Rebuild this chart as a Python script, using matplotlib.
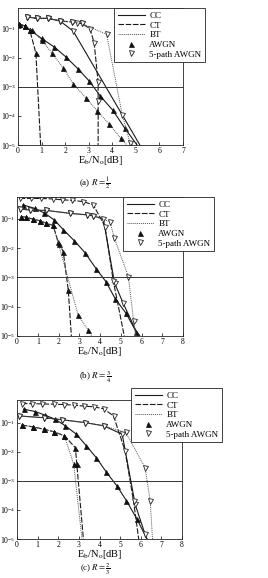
import matplotlib
matplotlib.use("Agg")
import matplotlib.pyplot as plt
from matplotlib.lines import Line2D
import numpy as np

plt.rcParams["font.family"] = ["Liberation Serif", "DejaVu Serif"]
plt.rcParams["mathtext.fontset"] = "stix"

# ---- (a) R = 1/2 ----
A_CC_AWGN_X = [0.06, 0.3, 0.5, 1.0, 1.54, 2.02, 2.53, 3.01, 3.5, 4.01, 4.53, 5.05]
A_CC_AWGN_Y = [0.14, 0.12, 0.09, 0.045, 0.023, 0.0107, 4.2e-3, 1.6e-3, 4.7e-4, 1.6e-4, 3.8e-5, 1e-5]
A_CT_AWGN_X = [0.06, 0.3, 0.5, 0.76, 0.96]
A_CT_AWGN_Y = [0.14, 0.12, 0.087, 0.014, 1e-5]
A_BT_AWGN_X = [0.06, 0.3, 0.58, 1.0, 1.43, 1.92, 2.34, 2.88, 3.36, 3.87, 4.36, 4.62]
A_BT_AWGN_Y = [0.14, 0.12, 0.087, 0.04, 0.0145, 4.4e-3, 1.26e-3, 4.1e-4, 1.5e-4, 5.2e-5, 1.7e-5, 1e-5]
A_CC_5P_X = [0.37, 0.79, 1.28, 1.78, 2.34, 5.17]
A_CC_5P_Y = [0.25, 0.22, 0.22, 0.18, 0.081, 1e-5]
A_CT_5P_X = [0.37, 0.79, 1.28, 1.78, 2.27, 2.49, 2.7, 3.05, 3.23, 3.4, 3.4, 3.4]
A_CT_5P_Y = [0.25, 0.22, 0.22, 0.18, 0.166, 0.148, 0.148, 0.098, 0.032, 1.4e-3, 3.2e-4, 1e-5]
A_BT_5P_X = [0.37, 0.79, 1.28, 1.78, 2.27, 2.7, 3.76, 4.42, 4.75, 4.86]
A_BT_5P_Y = [0.25, 0.22, 0.22, 0.18, 0.166, 0.148, 0.062, 1.1e-4, 1.2e-5, 1e-5]

# ---- (b) R = 3/4 ----
B_CC_AWGN_X = [0.29, 0.85, 1.31, 1.79, 2.23, 2.76, 3.27, 3.81, 4.29, 4.73, 5.26, 5.74, 5.92]
B_CC_AWGN_Y = [0.30, 0.23, 0.16, 0.093, 0.043, 0.018, 7.1e-3, 2.0e-3, 7.1e-4, 1.9e-4, 5.9e-5, 1.4e-5, 1e-5]
B_CT_AWGN_X = [0.21, 0.45, 0.77, 1.1, 1.42, 1.74, 1.98, 2.23, 2.47, 2.62]
B_CT_AWGN_Y = [0.12, 0.115, 0.098, 0.087, 0.071, 0.06, 0.0166, 7.6e-3, 3.7e-4, 1e-5]
B_BT_AWGN_X = [0.21, 0.45, 0.77, 1.1, 1.42, 1.74, 2.0, 2.95, 3.44, 3.6]
B_BT_AWGN_Y = [0.12, 0.115, 0.098, 0.087, 0.071, 0.06, 0.014, 5.1e-5, 1.55e-5, 1e-5]
B_CC_5P_X = [0.13, 0.61, 1.42, 2.55, 3.35, 3.68, 4.16, 4.7, 5.12, 5.85]
B_CC_5P_Y = [0.22, 0.20, 0.195, 0.155, 0.138, 0.126, 0.1, 6.5e-4, 1.3e-4, 1e-5]
B_CT_5P_X = [0.13, 0.69, 1.18, 1.74, 2.15, 2.63, 3.19, 3.68, 4.24, 4.64, 5.17]
B_CT_5P_Y = [0.5, 0.5, 0.5, 0.48, 0.45, 0.43, 0.39, 0.30, 0.055, 7.6e-4, 1e-5]
B_BT_5P_X = [0.13, 0.61, 1.42, 2.55, 3.35, 3.68, 4.48, 4.69, 5.37, 5.62, 5.72]
B_BT_5P_Y = [0.22, 0.20, 0.195, 0.155, 0.138, 0.126, 0.081, 0.022, 1.05e-3, 3.2e-5, 1e-5]

# ---- (c) R = 2/3 ----
C_CC_AWGN_X = [0.32, 0.89, 1.37, 1.86, 2.34, 2.88, 3.36, 3.84, 4.33, 4.85, 5.3, 5.82, 6.3]
C_CC_AWGN_Y = [0.29, 0.24, 0.18, 0.13, 0.078, 0.04, 0.016, 6.3e-3, 2.0e-3, 6.6e-4, 2.1e-4, 4.8e-5, 1e-5]
C_CT_AWGN_X = [0.23, 0.79, 1.33, 1.81, 2.3, 2.83, 2.9, 3.22]
C_CT_AWGN_Y = [0.083, 0.071, 0.059, 0.048, 0.035, 0.0138, 3.7e-3, 1e-5]
C_BT_AWGN_X = [0.23, 0.79, 1.33, 1.81, 2.3, 2.75, 3.15]
C_BT_AWGN_Y = [0.083, 0.071, 0.059, 0.048, 0.035, 3.7e-3, 1e-5]
C_CC_5P_X = [0.08, 1.29, 2.18, 3.31, 4.2, 5.1, 5.73, 6.21, 6.3]
C_CC_5P_Y = [0.17, 0.148, 0.126, 0.1, 0.078, 0.04, 1.55e-4, 1.45e-5, 1e-5]
C_CT_5P_X = [0.24, 0.73, 1.21, 1.78, 2.26, 2.75, 3.23, 3.72, 4.2, 4.68, 5.24, 5.65, 5.9]
C_CT_5P_Y = [0.45, 0.45, 0.44, 0.43, 0.42, 0.40, 0.37, 0.35, 0.30, 0.17, 0.0107, 2.0e-4, 1e-5]
C_BT_5P_X = [0.08, 1.29, 2.18, 3.31, 4.2, 5.28, 6.21, 6.46, 6.57]
C_BT_5P_Y = [0.17, 0.148, 0.126, 0.1, 0.078, 0.046, 2.8e-3, 2.0e-4, 1e-5]

LEGEND_LABELS = ["CC", "CT", "BT", "AWGN", "5-path AWGN"]

LINE_STYLES = {
    "CC": dict(linestyle="-", color="#1a1a1a", linewidth=0.8),
    "CT": dict(linestyle=(0, (5, 1.5)), color="#1a1a1a", linewidth=0.8),
    "BT": dict(linestyle=(0, (1, 1)), color="#555555", linewidth=0.7),
}
MARKERS = {
    "AWGN": dict(marker="^", markersize=3.6, markerfacecolor="#111111", markeredgecolor="#111111",
                 markeredgewidth=0.5),
    "5P": dict(marker="v", markersize=3.6, markerfacecolor="white", markeredgecolor="#222222",
               markeredgewidth=0.6),
}


def draw_panel(ax, series, xmax, ytop):
    for x, y, code, channel in series:
        ax.plot(x, y, markevery=slice(0, len(x) - 1), **LINE_STYLES[code], **MARKERS[channel])
    ax.axhline(1e-3, color="#333333", linewidth=0.7)
    ax.set_yscale("log")
    ax.set_xlim(0, xmax)
    ax.set_ylim(1e-5, ytop)
    ax.set_xticks(range(xmax + 1))
    ax.set_yticks([1e-5, 1e-4, 1e-3, 1e-2, 1e-1])
    ax.minorticks_off()
    ax.tick_params(direction="in", length=2, width=0.5, labelsize=5.5, pad=1.5)
    for spine in ax.spines.values():
        spine.set_linewidth(0.6)
        spine.set_color("#222222")
    ax.set_xlabel(r"E$_\mathrm{b}$/N$_\mathrm{o}$[dB]", fontsize=7.5, labelpad=-1)


def add_legend(ax, anchor):
    handles = [
        Line2D([], [], **LINE_STYLES["CC"]),
        Line2D([], [], **LINE_STYLES["CT"]),
        Line2D([], [], **LINE_STYLES["BT"]),
        Line2D([], [], linestyle="none", **MARKERS["AWGN"]),
        Line2D([], [], linestyle="none", **MARKERS["5P"]),
    ]
    leg = ax.legend(handles, LEGEND_LABELS, loc="upper right", bbox_to_anchor=anchor,
                    fontsize=6.5, frameon=True, fancybox=False, framealpha=1,
                    edgecolor="#222222", handlelength=3.0, labelspacing=0.15,
                    borderpad=0.4, handletextpad=0.5, borderaxespad=0)
    leg.get_frame().set_linewidth(0.6)
    leg.set_clip_on(False)


fig = plt.figure(figsize=(2.68, 5.78), dpi=100)

ax_a = fig.add_axes([18 / 268, 1 - 145 / 578, 165 / 268, 137 / 578])
draw_panel(ax_a, [
    (A_CC_AWGN_X, A_CC_AWGN_Y, "CC", "AWGN"),
    (A_CT_AWGN_X, A_CT_AWGN_Y, "CT", "AWGN"),
    (A_BT_AWGN_X, A_BT_AWGN_Y, "BT", "AWGN"),
    (A_CC_5P_X, A_CC_5P_Y, "CC", "5P"),
    (A_CT_5P_X, A_CT_5P_Y, "CT", "5P"),
    (A_BT_5P_X, A_BT_5P_Y, "BT", "5P"),
], 7, 0.5)
add_legend(ax_a, ((205 - 18) / 165, 1.0))

ax_b = fig.add_axes([17 / 268, 1 - 336 / 578, 166 / 268, 139 / 578])
draw_panel(ax_b, [
    (B_CC_AWGN_X, B_CC_AWGN_Y, "CC", "AWGN"),
    (B_CT_AWGN_X, B_CT_AWGN_Y, "CT", "AWGN"),
    (B_BT_AWGN_X, B_BT_AWGN_Y, "BT", "AWGN"),
    (B_CC_5P_X, B_CC_5P_Y, "CC", "5P"),
    (B_CT_5P_X, B_CT_5P_Y, "CT", "5P"),
    (B_BT_5P_X, B_BT_5P_Y, "BT", "5P"),
], 8, 0.56)
add_legend(ax_b, ((214 - 17) / 166, 1.0))

ax_c = fig.add_axes([17 / 268, 1 - 539 / 578, 165 / 268, 139 / 578])
draw_panel(ax_c, [
    (C_CC_AWGN_X, C_CC_AWGN_Y, "CC", "AWGN"),
    (C_CT_AWGN_X, C_CT_AWGN_Y, "CT", "AWGN"),
    (C_BT_AWGN_X, C_BT_AWGN_Y, "BT", "AWGN"),
    (C_CC_5P_X, C_CC_5P_Y, "CC", "5P"),
    (C_CT_5P_X, C_CT_5P_Y, "CT", "5P"),
    (C_BT_5P_X, C_BT_5P_Y, "BT", "5P"),
], 8, 0.6)
add_legend(ax_c, ((222 - 17) / 165, (539 - 388) / 139))

fig.text(95 / 268, 1 - 183 / 578, r"(a) $R=\frac{1}{2}$", ha="center", va="center", fontsize=6.5)
fig.text(95 / 268, 1 - 377 / 578, r"(b) $R=\frac{3}{4}$", ha="center", va="center", fontsize=6.5)
fig.text(95 / 268, 1 - 569 / 578, r"(c) $R=\frac{2}{3}$", ha="center", va="center", fontsize=6.3)

fig.savefig("out.png", dpi=100)
